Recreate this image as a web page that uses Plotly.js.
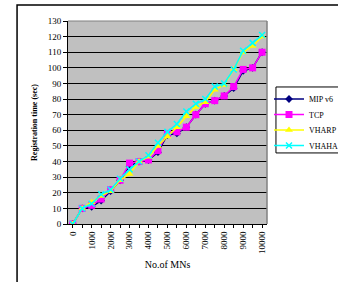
<!DOCTYPE html>
<html>
<head>
<meta charset="utf-8">
<script src="https://cdn.plot.ly/plotly-3.0.1.min.js"></script>
<style>
html,body{margin:0;padding:0;background:#fff;}
#chart{width:338px;height:282px;}
</style>
</head>
<body>
<div id="chart"></div>
<script>
var mnCounts = [0,500,1000,1500,2000,2500,3000,3500,4000,4500,5000,5500,6000,6500,7000,7500,8000,8500,9000,9500,10000];
var mipv6 = [0,10,11,15,21,28,37,40,41,46,57,58,62,70,77,79,82,87,98,100,110];
var tcp   = [0,10,12,16,22,28,39,40,41,47,58,59,62,70,77,79,82,88,99,100,110];
var vharp = [0,10,14,18,21,28,32,40,43,50,56,62,69,75,78,86,89,99,110,114,120];
var vhaha = [0,10,13,19,22,29,35,40,44,52,59,64,72,77,80,88,90,99,111,116,121];
var xTickVals = [0,1000,2000,3000,4000,5000,6000,7000,8000,9000,10000];
var xTickText = ['0','1000','2000','3000','4000','5000','6000','7000','8000','9000','10000'];
var seriesNames = ['MIP v6','TCP','VHARP','VHAHA'];

var serif = '"Liberation Serif", "Times New Roman", serif';
var W = 338, H = 282;

var traces = [
  {x: mnCounts, y: mipv6, name: seriesNames[0], mode: 'lines+markers', legend: 'legend',
   line: {color: '#000080', width: 1.5},
   marker: {symbol: 'diamond', size: 6, color: '#000080'}},
  {x: mnCounts, y: tcp, name: seriesNames[1], mode: 'lines+markers', legend: 'legend2',
   line: {color: '#FF00FF', width: 1.5},
   marker: {symbol: 'square', size: 7, color: '#FF00FF'}},
  {x: mnCounts, y: vharp, name: seriesNames[2], mode: 'lines+markers', legend: 'legend3',
   line: {color: '#FFFF00', width: 1.5},
   marker: {symbol: 'triangle-up', size: 7, color: '#FFFF00'}},
  {x: mnCounts, y: vhaha, name: seriesNames[3], mode: 'lines+markers', legend: 'legend4',
   line: {color: '#00FFFF', width: 1.5},
   marker: {symbol: 'x-thin', size: 6, color: '#00FFFF', line: {color: '#00FFFF', width: 1.5}}}
];

function legendAt(py) {
  return {
    xref: 'container', yref: 'container',
    x: 269 / W, y: 1 - py / H, xanchor: 'left', yanchor: 'middle',
    bgcolor: 'rgba(0,0,0,0)', borderwidth: 0,
    font: {family: serif, size: 8, color: '#000'},
    itemwidth: 30
  };
}

var layout = {
  width: W, height: H,
  margin: {l: 68, r: 71, t: 21, b: 58, pad: 0},
  paper_bgcolor: '#ffffff',
  plot_bgcolor: '#C0C0C0',
  font: {family: serif, size: 9, color: '#000'},
  showlegend: true,
  legend: legendAt(99),
  legend2: legendAt(114.5),
  legend3: legendAt(130),
  legend4: legendAt(145.5),
  xaxis: {
    range: [-250, 10260],
    tickmode: 'array', tickvals: xTickVals, ticktext: xTickText,
    tickangle: -90,
    ticks: 'outside', ticklen: 3, tickcolor: '#000', tickwidth: 1,
    minor: {dtick: 500, ticks: 'outside', ticklen: 3, tickcolor: '#000', showgrid: false},
    showgrid: false, zeroline: false,
    showline: true, linecolor: '#000', linewidth: 1,
    tickfont: {family: serif, size: 9},
    title: {text: 'No.of MNs', font: {family: serif, size: 10}, standoff: 7}
  },
  yaxis: {
    range: [0, 130], dtick: 10,
    ticks: 'outside', ticklen: 4, tickcolor: '#000',
    showgrid: true, gridcolor: '#000', gridwidth: 1,
    zeroline: false,
    showline: true, linecolor: '#000', linewidth: 1,
    tickfont: {family: serif, size: 9},
    title: {text: '<b>Registration time (sec)</b>', font: {family: serif, size: 8}, standoff: 8}
  },
  shapes: [
    {type: 'line', xref: 'paper', yref: 'paper', x0: 0, x1: 1, y0: 1, y1: 1,
     line: {color: '#808080', width: 1}},
    {type: 'line', xref: 'paper', yref: 'paper', x0: 1, x1: 1, y0: 0, y1: 1,
     line: {color: '#808080', width: 1.5}},
    {type: 'rect', xref: 'paper', yref: 'paper', x0: -0.256, x1: 1.6, y0: -0.5, y1: 1.079,
     line: {color: '#000', width: 1.5}, fillcolor: 'rgba(0,0,0,0)', layer: 'below'},
    {type: 'rect', xref: 'paper', yref: 'paper', x0: 1.045, x1: 1.5, y0: 0.350, y1: 0.675,
     line: {color: '#000', width: 1}, fillcolor: '#ffffff', layer: 'above'}
  ]
};

Plotly.newPlot('chart', traces, layout, {displayModeBar: false, staticPlot: true});
</script>
</body>
</html>
